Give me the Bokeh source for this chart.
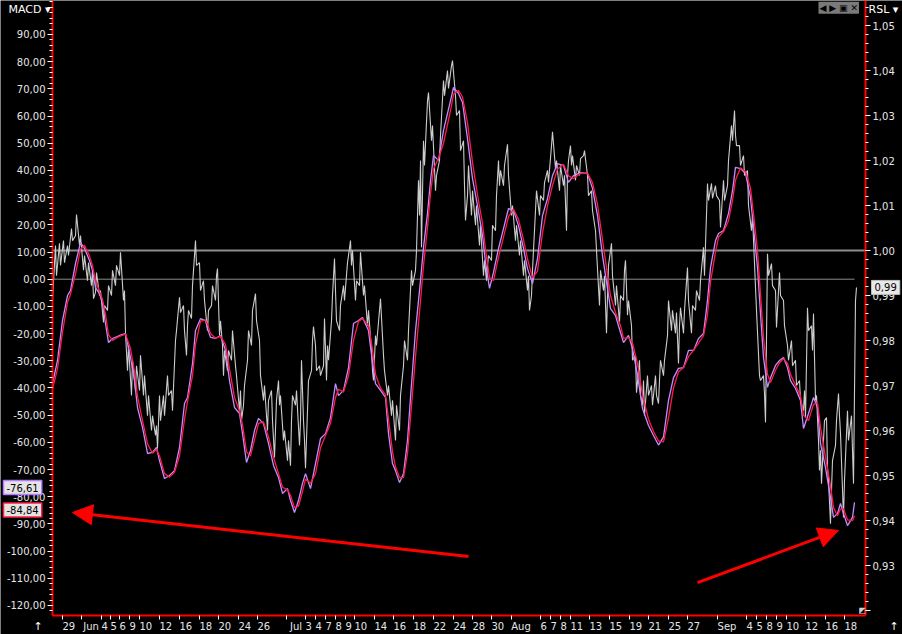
from bokeh.plotting import figure
from bokeh.models import (Range1d, LinearAxis, SingleIntervalTicker, FixedTicker,
                          CustomJSTickFormatter, Label, Arrow, NormalHead)
from bokeh.embed import file_html
from bokeh.resources import INLINE

# ---------------- data (bar index) ----------------
rsl_bar = [
    0, 3, 4, 7, 8, 11, 12, 15, 16, 19,
    20, 23, 24, 27, 28, 31, 32, 35, 36, 39,
    40, 41, 43, 44, 47, 48, 51, 52, 55, 56,
    59, 60, 63, 64, 67, 68, 71, 72, 73, 75,
    76, 79, 80, 83, 84, 87, 88, 91, 92, 95,
    96, 99, 100, 103, 104, 105, 107, 108, 111, 112,
    115, 116, 119, 120, 123, 124, 127, 128, 131, 132,
    134, 135, 136, 139, 140, 143, 144, 147, 148, 151,
    152, 155, 156, 159, 160, 163, 164, 165, 167, 168,
    170, 171, 172, 175, 176, 179, 180, 183, 184, 187,
    188, 189, 191, 192, 195, 196, 199, 200, 203, 204,
    207, 208, 211, 212, 215, 216, 219, 220, 222, 224,
    226, 227, 228, 231, 232, 235, 236, 238, 239, 240,
    243, 244, 247, 248, 249, 251, 252, 253, 255, 256,
    259, 260, 261, 263, 264, 267, 268, 271, 272, 274,
    275, 276, 279, 280, 282, 283, 284, 287, 288, 291,
    292, 295, 296, 298, 299, 300, 303, 304, 307, 308,
    311, 312, 315, 316, 319, 320, 321, 323, 324, 327,
    328, 331, 332, 335, 336, 339, 340, 343, 344, 347,
    348, 351, 352, 355, 356, 359, 360, 363, 364, 366,
    367, 368, 369, 371, 372, 375, 376, 379, 380, 383,
    384, 387, 388, 391, 392, 395, 396, 399, 400, 403,
    404, 407, 408, 411, 412, 413, 415, 416, 419, 420,
    423, 424, 427, 428, 431, 432, 434, 435, 436, 439,
    440, 443, 444, 446, 447, 448, 451, 452, 455, 456,
    459, 460, 463, 464, 467, 468, 471, 472, 475, 476,
    477, 479, 480, 483, 484, 487, 488, 491, 492, 495,
    496, 499, 500, 503, 504, 507, 508, 511, 512, 514,
    515, 516, 518, 519, 520, 523, 524, 527, 528, 531,
    532, 535, 536, 539, 540, 543, 544, 547, 548, 551,
    552, 554, 555, 556, 559, 560, 563, 564, 567, 568,
    571, 572, 573, 575, 576, 579, 580, 583, 584, 587,
    588, 590, 591, 592, 595, 596, 599, 600, 603, 604,
    606, 607, 608, 611, 612, 615, 616, 619, 620, 623,
    624, 626, 627, 628, 631, 632, 635, 636, 639, 640,
    643, 644, 647, 648, 651, 652, 655, 656, 659, 660,
    663, 664, 667, 668, 671, 672, 675, 676, 679, 680,
    682, 683, 684, 687, 688, 691, 692, 695, 696, 699,
    700, 703, 704, 707, 708, 711, 712, 713, 715, 716,
    719, 720, 723, 724, 727, 728, 731, 732, 735, 736,
    739, 740, 743, 744, 747, 748, 751, 752, 753, 755,
    756, 759, 760, 761, 763, 764, 766, 767, 768, 769,
    771, 772, 774, 775, 776, 778, 779, 780, 783, 784,
    786, 787, 788, 791, 792, 795, 796, 799, 800, 801,
    803, 804,
]
rsl_val = [
    0.9889, 1.0011, 0.9944, 1.0016, 0.9967, 1.0022, 0.9973, 1.0011, 0.9989, 1.0049,
    1.0022, 1.0033, 1.0080, 1.0011, 1.0033, 0.9956, 0.9989, 0.9933, 0.9973, 0.9922,
    0.9956, 0.9893, 0.9907, 0.9951, 0.9900, 0.9911, 0.9840, 0.9878, 0.9867, 0.9922,
    0.9900, 0.9956, 0.9922, 0.9967, 0.9944, 0.9996, 0.9889, 0.9911, 0.9816, 0.9733,
    0.9789, 0.9678, 0.9756, 0.9689, 0.9744, 0.9689, 0.9767, 0.9678, 0.9722, 0.9633,
    0.9678, 0.9600, 0.9633, 0.9589, 0.9611, 0.9560, 0.9678, 0.9622, 0.9678, 0.9633,
    0.9722, 0.9678, 0.9689, 0.9644, 0.9800, 0.9822, 0.9896, 0.9862, 0.9878, 0.9822,
    0.9767, 0.9833, 0.9867, 0.9849, 0.9922, 1.0022, 0.9967, 0.9973, 0.9911, 0.9933,
    0.9889, 0.9822, 0.9867, 0.9878, 0.9922, 0.9889, 0.9944, 0.9960, 0.9811, 0.9844,
    0.9789, 0.9722, 0.9778, 0.9733, 0.9778, 0.9756, 0.9822, 0.9744, 0.9722, 0.9644,
    0.9689, 0.9622, 0.9656, 0.9700, 0.9756, 0.9822, 0.9789, 0.9867, 0.9904, 0.9844,
    0.9800, 0.9722, 0.9667, 0.9700, 0.9600, 0.9667, 0.9689, 0.9622, 0.9540, 0.9667,
    0.9711, 0.9656, 0.9678, 0.9578, 0.9600, 0.9533, 0.9578, 0.9522, 0.9622, 0.9678,
    0.9656, 0.9689, 0.9567, 0.9622, 0.9756, 0.9622, 0.9578, 0.9516, 0.9644, 0.9711,
    0.9733, 0.9800, 0.9831, 0.9789, 0.9733, 0.9744, 0.9722, 0.9744, 0.9849, 0.9711,
    0.9789, 0.9756, 0.9844, 0.9900, 0.9982, 0.9911, 0.9844, 0.9822, 0.9878, 0.9922,
    0.9889, 0.9973, 0.9989, 1.0022, 0.9967, 1.0000, 0.9889, 0.9933, 0.9922, 0.9996,
    0.9900, 0.9922, 0.9833, 0.9867, 0.9778, 0.9733, 0.9711, 0.9811, 0.9789, 0.9867,
    0.9893, 0.9767, 0.9733, 0.9678, 0.9700, 0.9633, 0.9667, 0.9578, 0.9656, 0.9600,
    0.9678, 0.9744, 0.9800, 0.9756, 0.9822, 0.9956, 0.9922, 0.9956, 1.0000, 1.0156,
    1.0078, 1.0200, 1.0007, 1.0244, 1.0189, 1.0333, 1.0351, 1.0244, 1.0278, 1.0133,
    1.0167, 1.0200, 1.0256, 1.0378, 1.0344, 1.0400, 1.0360, 1.0411, 1.0422, 1.0344,
    1.0300, 1.0311, 1.0222, 1.0244, 1.0144, 1.0067, 1.0122, 1.0189, 1.0078, 1.0133,
    1.0056, 1.0100, 1.0011, 1.0056, 0.9944, 0.9978, 0.9933, 0.9967, 0.9989, 0.9978,
    1.0056, 1.0044, 1.0122, 1.0200, 1.0144, 1.0178, 1.0144, 1.0189, 1.0236, 1.0167,
    1.0078, 1.0100, 1.0022, 1.0056, 0.9989, 1.0022, 0.9944, 0.9978, 0.9911, 0.9944,
    0.9867, 0.9900, 0.9956, 1.0089, 1.0133, 1.0078, 1.0122, 1.0111, 1.0151, 1.0178,
    1.0151, 1.0233, 1.0264, 1.0182, 1.0200, 1.0133, 1.0189, 1.0144, 1.0167, 1.0044,
    1.0167, 1.0200, 1.0233, 1.0189, 1.0211, 1.0156, 1.0189, 1.0167, 1.0204, 1.0211,
    1.0222, 1.0167, 1.0122, 1.0133, 1.0089, 1.0044, 1.0000, 0.9878, 0.9956, 0.9911,
    0.9944, 0.9816, 0.9900, 0.9967, 1.0016, 0.9944, 0.9878, 0.9922, 0.9840, 0.9900,
    0.9889, 0.9956, 0.9978, 0.9856, 0.9889, 0.9833, 0.9756, 0.9767, 0.9684, 0.9756,
    0.9678, 0.9656, 0.9711, 0.9633, 0.9722, 0.9678, 0.9700, 0.9656, 0.9722, 0.9678,
    0.9660, 0.9711, 0.9756, 0.9722, 0.9756, 0.9811, 0.9889, 0.9822, 0.9867, 0.9816,
    0.9862, 0.9749, 0.9833, 0.9873, 0.9816, 0.9867, 0.9962, 0.9889, 0.9816, 0.9878,
    0.9867, 0.9911, 0.9889, 0.9933, 1.0007, 0.9944, 1.0149, 1.0111, 1.0149, 1.0116,
    1.0144, 1.0122, 1.0111, 1.0051, 1.0156, 1.0111, 1.0144, 1.0200, 1.0278, 1.0244,
    1.0311, 1.0256, 1.0233, 1.0233, 1.0189, 1.0211, 1.0167, 1.0178, 1.0100, 1.0044,
    1.0078, 0.9918, 0.9867, 0.9722, 0.9711, 0.9722, 0.9682, 0.9618, 0.9993, 0.9944,
    0.9971, 0.9922, 0.9911, 0.9829, 0.9951, 0.9900, 0.9889, 0.9833, 0.9789, 0.9756,
    0.9800, 0.9744, 0.9756, 0.9700, 0.9711, 0.9667, 0.9644, 0.9689, 0.9629, 0.9873,
    0.9822, 0.9833, 0.9778, 0.9860, 0.9667, 0.9678, 0.9578, 0.9511, 0.9556, 0.9482,
    0.9578, 0.9622, 0.9629, 0.9518, 0.9489, 0.9393, 0.9467, 0.9533, 0.9567, 0.9622,
    0.9682, 0.9633, 0.9593, 0.9407, 0.9489, 0.9644, 0.9578, 0.9633, 0.9556, 0.9482,
    0.9889, 0.9918,
]

macd_bar = [
    0, 5, 10, 15, 18, 23, 28, 32, 37, 40,
    43, 47, 50, 53, 56, 60, 67, 73, 78, 82,
    85, 90, 95, 100, 104, 107, 112, 117, 122, 127,
    132, 135, 140, 143, 148, 153, 155, 158, 163, 168,
    173, 177, 182, 187, 190, 194, 198, 202, 206, 211,
    216, 221, 226, 230, 235, 238, 242, 246, 250, 253,
    258, 263, 268, 273, 278, 283, 286, 291, 296, 301,
    306, 310, 316, 320, 323, 328, 333, 336, 340, 343,
    347, 351, 355, 358, 363, 368, 371, 375, 378, 381,
    386, 391, 398, 401, 406, 410, 415, 420, 425, 430,
    433, 437, 441, 446, 451, 456, 461, 466, 471, 475,
    480, 485, 490, 495, 500, 505, 511, 516, 521, 528,
    535, 540, 545, 550, 555, 558, 563, 568, 571, 576,
    580, 585, 590, 596, 601, 606, 611, 616, 621, 626,
    631, 636, 641, 646, 651, 655, 658, 663, 666, 671,
    676, 680, 683, 688, 693, 698, 701, 705, 708, 711,
    715, 718, 723, 727, 731, 735, 738, 743, 748, 751,
    756, 761, 765, 768, 773, 778, 781, 785, 788, 791,
    795, 800, 802,
]
macd_val = [
    -38.4, -29.9, -15.2, -6.0, -4.2, 5.8, 13.5, 11.3, 6.9, 3.2,
    -3.1, -5.3, -8.9, -16.3, -23.3, -21.8, -20.7, -20.0, -28.8, -37.3,
    -47.2, -54.5, -64.1, -63.7, -61.9, -66.7, -73.3, -72.2, -70.4, -61.9,
    -45.7, -43.5, -31.0, -18.9, -14.5, -15.2, -18.1, -21.4, -21.8, -20.7,
    -26.2, -37.3, -47.2, -49.4, -56.8, -67.4, -63.0, -55.7, -51.2, -53.1,
    -60.4, -68.5, -72.9, -78.8, -77.0, -81.4, -85.8, -81.4, -75.1, -71.5,
    -77.0, -67.8, -58.6, -56.8, -50.9, -38.4, -42.8, -40.9, -32.5, -16.3,
    -15.2, -14.1, -18.9, -30.6, -38.4, -40.9, -43.5, -56.8, -67.8, -70.4,
    -74.8, -71.5, -59.3, -43.5, -18.9, -0.5, 11.7, 24.2, 36.3, 45.5,
    43.7, 54.7, 65.7, 70.5, 68.3, 65.0, 51.7, 37.0, 27.1, 16.1,
    6.1, -3.4, 2.5, 11.3, 18.6, 26.0, 25.3, 19.7, 11.3, 3.9,
    -1.6, 7.6, 23.4, 29.7, 38.1, 42.5, 41.8, 35.6, 38.1, 39.2,
    38.9, 33.4, 23.4, 8.7, -3.4, -10.8, -13.4, -19.6, -23.3, -20.7,
    -25.5, -35.4, -47.6, -53.8, -57.5, -61.0, -58.0, -44.6, -36.2, -32.8,
    -32.5, -26.2, -26.2, -21.8, -20.0, -7.8, 4.3, 14.2, 16.8, 17.9,
    24.2, 32.6, 41.1, 40.7, 38.9, 30.0, 19.0, 4.3, -12.6, -28.8,
    -39.8, -36.2, -31.7, -29.9, -28.8, -32.5, -37.3, -40.2, -44.6, -54.9,
    -49.4, -43.5, -47.2, -60.4, -69.3, -80.3, -87.6, -86.2, -82.5, -86.2,
    -90.6, -87.6, -82.1,
]
signal_val = [
    -40.5, -33.0, -19.5, -8.5, -5.5, 2.0, 11.0, 12.5, 8.5, 5.0,
    -0.5, -4.5, -7.5, -13.0, -20.5, -22.5, -21.0, -20.2, -25.5, -34.0,
    -43.0, -52.0, -60.5, -64.0, -62.5, -65.0, -71.5, -72.8, -71.0, -65.0,
    -51.5, -45.0, -35.5, -24.0, -15.5, -15.0, -16.5, -20.0, -21.7, -21.0,
    -24.0, -33.0, -43.5, -48.5, -53.5, -63.5, -65.0, -59.0, -53.0, -52.5,
    -58.0, -65.5, -71.5, -76.5, -77.5, -79.5, -84.0, -83.5, -78.0, -73.5,
    -75.0, -71.5, -62.0, -57.5, -53.0, -43.5, -40.5, -41.5, -35.5, -22.5,
    -15.5, -14.5, -17.0, -26.0, -35.0, -40.0, -42.5, -51.5, -63.5, -69.0,
    -73.0, -73.0, -64.0, -51.0, -28.5, -8.0, 5.0, 19.0, 31.5, 40.5,
    44.5, 50.0, 62.0, 68.0, 69.5, 67.0, 57.5, 43.0, 31.0, 20.5,
    11.0, 0.5, -0.5, 8.0, 15.5, 23.0, 25.8, 22.0, 14.5, 7.5,
    0.5, 3.0, 17.0, 27.0, 34.5, 40.5, 42.2, 38.0, 37.0, 39.0,
    39.0, 35.5, 27.5, 14.5, 1.5, -6.0, -12.3, -17.0, -21.8, -21.5,
    -23.5, -31.0, -42.5, -51.5, -56.0, -59.5, -59.8, -51.0, -40.0, -34.0,
    -32.6, -28.5, -26.2, -23.5, -20.8, -13.0, -1.0, 10.0, 15.5, 17.5,
    21.5, 29.0, 36.5, 41.0, 39.6, 33.5, 24.0, 10.5, -5.5, -21.5,
    -35.0, -38.0, -33.5, -30.7, -29.2, -31.0, -35.0, -39.0, -43.0, -50.0,
    -52.0, -46.0, -45.5, -54.5, -65.5, -76.0, -84.0, -87.0, -84.5, -84.5,
    -88.5, -88.8, -87.0,
]

x_tick_bar = [10, 29, 49, 58, 67, 77, 87, 107, 127, 147, 166, 186, 205,
              234, 253, 263, 273, 283, 293, 302, 322, 341, 361, 381,
              401, 420, 439, 459, 488, 498, 508, 518, 537, 557, 577, 596, 616, 635,
              665, 694, 704, 714, 724, 734, 753, 773, 792]
x_tick_label = ["29", "Jun", "4", "5", "6", "9", "10", "12", "16", "18", "20", "24", "26",
                "Jul", "3", "4", "7", "8", "9", "10", "14", "16", "18", "22",
                "24", "28", "30", "Aug", "6", "7", "8", "11", "13", "15", "19", "21", "25", "27",
                "Sep", "4", "5", "8", "9", "10", "12", "16", "18"]

macd_tag = -76.61
signal_tag = -84.84
rsl_tag = 0.9918
rsl_tag_text = "0,99"

# ---------------- layout constants ----------------
FONT = "DejaVu Sans"
TXT = "#e6e6e6"
X0, X1 = 0, 813                      # bar span of the chart body
M_TOP, M_BOT = 102.5, -123.7         # MACD span of the chart body
R_TOP, R_BOT = 1.05556, 0.91889      # RSL span of the chart body
# the frame covers the whole canvas; axes are pinned at the body's edges
p = figure(width=902, height=634, output_backend="svg", toolbar_location=None,
           x_range=Range1d(-52, 850), y_range=Range1d(-130.67, M_TOP),
           background_fill_color="black", border_fill_color="black",
           min_border_left=0, min_border_right=0, min_border_top=0, min_border_bottom=0)
p.min_border = 0
p.outline_line_color = None
p.grid.visible = False
p.extra_y_ranges = {"rsl": Range1d(0.91467, R_TOP)}

fmt_l = CustomJSTickFormatter(code="return tick > 95 ? '' : tick.toFixed(2).replace('.', ',');")
fmt_r = CustomJSTickFormatter(code="return tick < 0.925 ? '' : tick.toFixed(2).replace('.', ',');")

def style_axis(ax):
    ax.axis_line_color = "red"
    ax.axis_line_width = 2
    ax.major_tick_line_color = "white"
    ax.minor_tick_line_color = "white"
    ax.major_tick_in = 0
    ax.minor_tick_in = 0
    ax.major_label_text_color = TXT
    ax.major_label_text_font = FONT
    ax.major_label_text_font_size = "10px"

yl = p.yaxis[0]
yl.ticker = SingleIntervalTicker(interval=10, num_minor_ticks=5)
yl.formatter = fmt_l
style_axis(yl)
yl.major_tick_out = 5
yl.minor_tick_out = 3
yl.major_label_standoff = 2
yl.fixed_location = X0
yl.bounds = (M_BOT, M_TOP)

yr = LinearAxis(y_range_name="rsl", fixed_location=X1, bounds=(R_BOT, R_TOP))
yr.ticker = SingleIntervalTicker(interval=0.01, num_minor_ticks=5)
yr.formatter = fmt_r
style_axis(yr)
yr.major_tick_out = 5
yr.minor_tick_out = 3
yr.major_label_standoff = 2
p.add_layout(yr, "right")

# labels start at their tick: pad each centred label on the left with figure spaces
xa = p.xaxis[0]
xa.ticker = FixedTicker(ticks=x_tick_bar, minor_ticks=[])
xa.major_label_overrides = {b: "\u2007" * len(l) + l for b, l in zip(x_tick_bar, x_tick_label)}
style_axis(xa)
xa.major_tick_out = 4
xa.minor_tick_out = 0
xa.major_label_standoff = 1
xa.fixed_location = M_BOT
xa.bounds = (X0, X1)

# reference lines: RSL = 1 across the body, MACD = 0 up to the last bar
p.segment(x0=[X0], y0=[1.0], x1=[X1], y1=[1.0], y_range_name="rsl",
          line_color="#8c8c8c", line_width=2)
p.segment(x0=[X0], y0=[0], x1=[macd_bar[-1]], y1=[0],
          line_color="#8c8c8c", line_width=1)

# series
p.line(rsl_bar, rsl_val, y_range_name="rsl", line_color="#cccccc", line_width=1.1)
p.line(macd_bar, macd_val, line_color="#c38cff", line_width=1.3)
p.line(macd_bar, signal_val, line_color="#ff1a4a", line_width=1.3)

# value tags (screen x measured from the canvas' left edge)
tag_style = dict(text_font=FONT, text_font_size="10px", text_color="black",
                 text_baseline="middle", padding=3)
p.add_layout(Label(x=3, x_units="screen", y=macd_tag, text="-76,61",
                   background_fill_color="#e4e4e4",
                   border_line_color="#b57aff", border_line_width=1.5, **tag_style))
p.add_layout(Label(x=3, x_units="screen", y=signal_tag, text="-84,84",
                   background_fill_color="#e4e4e4",
                   border_line_color="#ff2040", border_line_width=1.5, **tag_style))
p.add_layout(Label(x=871, x_units="screen", y=rsl_tag, y_range_name="rsl", text=rsl_tag_text,
                   background_fill_color="#e8e8e8", border_line_color="#bdbdbd", **tag_style))

# headers and small marks
txt_style = dict(text_font=FONT, text_baseline="top")
p.add_layout(Label(x=8, x_units="screen", y=101.4, text="MACD \u25BE",
                   text_font_size="11px", text_color="white", **txt_style))
p.add_layout(Label(x=868, x_units="screen", y=101.4, text="RSL \u25BE",
                   text_font_size="11px", text_color="white", **txt_style))
p.add_layout(Label(x=818, x_units="screen", y=102.0, text="\u25C0 \u25B6 \u25A3 \u2715",
                   text_font_size="9px", text_color="black",
                   background_fill_color="#7a7a7a", padding=1, **txt_style))
p.add_layout(Label(x=858, x_units="screen", y=-120.2, text="\u25E9",
                   text_font_size="8px", text_color="#d0d0d0", **txt_style))
p.add_layout(Label(x=33, x_units="screen", y=-125.4, text="\u2191",
                   text_font_size="11px", text_color="white", **txt_style))
p.add_layout(Label(x=889, x_units="screen", y=-125.4, text="\u2191",
                   text_font_size="11px", text_color="white", **txt_style))

# red arrows
p.add_layout(Arrow(end=NormalHead(size=20, fill_color="red", line_color="red"),
                   x_start=416, y_start=-102.0, x_end=20, y_end=-85.8,
                   line_color="red", line_width=3))
p.add_layout(Arrow(end=NormalHead(size=20, fill_color="red", line_color="red"),
                   x_start=645, y_start=-111.6, x_end=786, y_end=-92.4,
                   line_color="red", line_width=3))

open("out.html", "w").write(file_html(p, INLINE))
